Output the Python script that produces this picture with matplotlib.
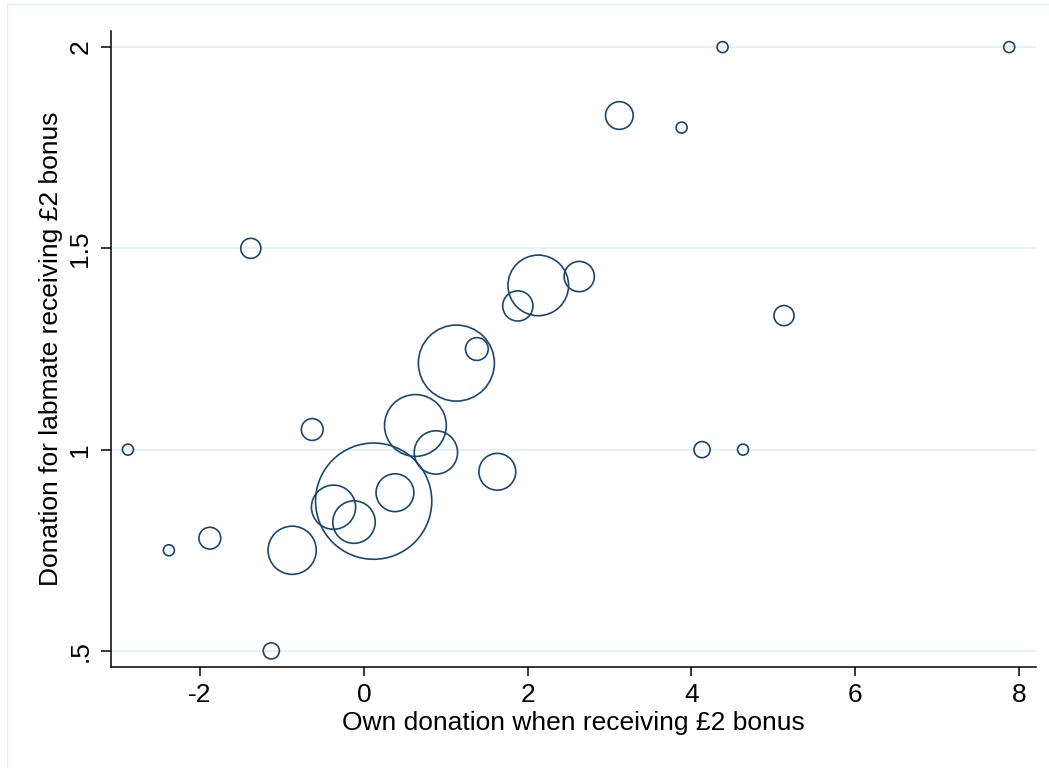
import matplotlib
matplotlib.use("Agg")
import matplotlib.pyplot as plt
from matplotlib.lines import Line2D
import numpy as np

plt.rcParams["font.family"] = ["Liberation Sans", "DejaVu Sans"]

# own donation (x), labmate donation (y), and cell weight (bubble area)
own_donation = [-2.88, -2.38, -1.88, -1.38, -1.13, -0.875, -0.63, -0.37, -0.12, 0.12,
                0.38, 0.63, 0.88, 1.13, 1.38, 1.63, 1.88, 2.13, 2.63, 3.12,
                3.88, 4.13, 4.38, 4.63, 5.13, 7.88]
labmate_donation = [1.0, 0.75, 0.78, 1.5, 0.5, 0.75, 1.05, 0.857, 0.82, 0.872,
                    0.893, 1.06, 0.993, 1.215, 1.25, 0.945, 1.357, 1.408, 1.43, 1.83,
                    1.8, 1.0, 2.0, 1.0, 1.333, 2.0]
weight = [1, 1, 3.5, 3, 2, 16, 3.5, 13.5, 12.5, 90,
          10, 26, 13, 39, 3.8, 9.5, 6.5, 25, 6.5, 5.5,
          1, 2, 1, 1, 3, 1]

x_ticks = [-2, 0, 2, 4, 6, 8]
y_ticks = [0.5, 1, 1.5, 2]
y_tick_labels = [".5", "1", "1.5", "2"]

NAVY = "#1a476f"
GRID = "#e8f0f2"

fig = plt.figure(figsize=(10.49, 7.68), dpi=100)
ax = fig.add_axes([111 / 1049, 1 - 667 / 768, (1036 - 111) / 1049, (667 - 31) / 768])

# bubble area proportional to weight (outer radius ~6.2 px for weight 1)
w = np.asarray(weight, dtype=float)
diam_pt = 2 * 0.72 * (6.2 * np.sqrt(w) - 0.7)
ax.scatter(own_donation, labmate_donation, s=diam_pt ** 2, facecolors="none",
           edgecolors=NAVY, linewidths=1.2, zorder=3)

ax.set_xlim(-3.087, 8.207)
ax.set_ylim(0.46, 2.04)
ax.set_xticks(x_ticks)
ax.set_xticklabels([str(t) for t in x_ticks])
ax.set_yticks(y_ticks)
ax.set_yticklabels(y_tick_labels, rotation=90, va="center")

ax.grid(axis="y", color=GRID, linewidth=1.6, zorder=0)
ax.set_axisbelow(True)
for side in ("top", "right"):
    ax.spines[side].set_visible(False)
for side in ("left", "bottom"):
    ax.spines[side].set_linewidth(1.1)
    ax.spines[side].set_color("black")

ax.tick_params(axis="x", length=6.5, width=1.1, pad=5, labelsize=19)
ax.tick_params(axis="y", length=7.5, width=1.1, pad=6, labelsize=19)

ax.set_xlabel("Own donation when receiving £2 bonus", fontsize=19, labelpad=3)
ax.set_ylabel("Donation for labmate receiving £2 bonus", fontsize=19, labelpad=4)

# light outer frame of the graph region
fig.add_artist(Line2D([7 / 1049, 1.0], [1 - 4 / 768, 1 - 4 / 768], color="#e6eef1", lw=1.0))
fig.add_artist(Line2D([7 / 1049, 7 / 1049], [0.0, 1 - 4 / 768], color="#e6eef1", lw=1.0))

fig.savefig("out.png", dpi=100, facecolor="white")
